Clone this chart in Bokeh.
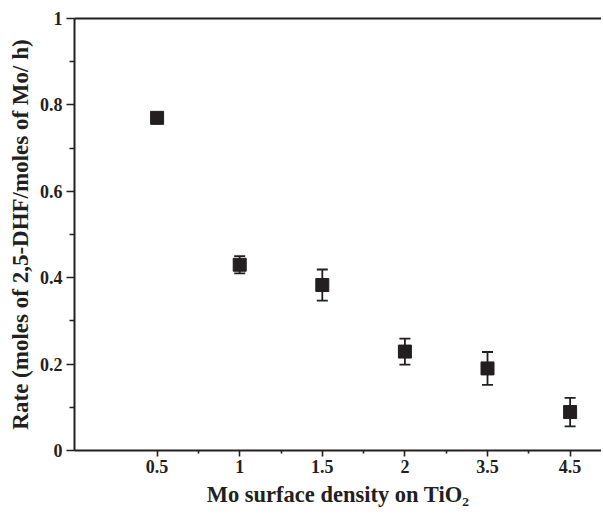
from bokeh.plotting import figure
from bokeh.models import ColumnDataSource, Whisker, FixedTicker, LinearAxis, Range1d, TeeHead
from bokeh.embed import file_html
from bokeh.resources import INLINE

# data
densities = ["0.5", "1", "1.5", "2", "3.5", "4.5"]
rates = [0.770, 0.430, 0.383, 0.229, 0.190, 0.089]
errors = [0.008, 0.020, 0.036, 0.030, 0.038, 0.033]
y_ticks = [0, 0.2, 0.4, 0.6, 0.8, 1.0]
y_tick_labels = ["0", "0.2", "0.4", "0.6", "0.8", "1"]

xpos = list(range(1, len(densities) + 1))
src = ColumnDataSource(dict(
    x=xpos, y=rates,
    lo=[r - e for r, e in zip(rates, errors)],
    hi=[r + e for r, e in zip(rates, errors)],
))

INK = "#231f20"
FONT = "Liberation Serif"

p = figure(frame_width=527, frame_height=432, output_backend="svg", toolbar_location=None,
           x_range=Range1d(0, 6.38), y_range=Range1d(0, 1),
           min_border_left=74, min_border_right=0, min_border_top=18, min_border_bottom=60)
p.outline_line_color = None
p.grid.visible = False
p.background_fill_color = "white"
p.border_fill_color = "white"

# x axis
xa = p.xaxis[0]
xa.ticker = FixedTicker(ticks=xpos, minor_ticks=[i + 0.5 for i in xpos[:-1]])
xa.major_label_overrides = {x: lab for x, lab in zip(xpos, densities)}
xa.axis_label = "Mo surface density on TiO\u2082"

# y axis
ya = p.yaxis[0]
ya.ticker = FixedTicker(ticks=y_ticks, minor_ticks=[0.1, 0.3, 0.5, 0.7, 0.9])
ya.major_label_overrides = {t: lab for t, lab in zip(y_ticks, y_tick_labels)}
ya.axis_label = "Rate (moles of 2,5-DHF/moles of Mo/ h)"

for ax in (xa, ya):
    ax.axis_line_color = INK
    ax.axis_line_width = 2
    ax.major_tick_line_color = INK
    ax.minor_tick_line_color = INK
    ax.major_tick_line_width = 1.6
    ax.minor_tick_line_width = 1.6
    ax.major_tick_in = 0
    ax.minor_tick_in = 0
    ax.major_label_text_font = FONT
    ax.major_label_text_font_style = "bold"
    ax.major_label_text_font_size = "18px"
    ax.major_label_text_color = INK
    ax.axis_label_text_font = FONT
    ax.axis_label_text_font_style = "bold"
    ax.axis_label_text_color = INK

xa.axis_label_text_font_size = "22.5px"
ya.axis_label_text_font_size = "23px"
xa.major_tick_out = 6
xa.minor_tick_out = 3
xa.major_label_standoff = 3
xa.axis_label_standoff = 6
ya.major_tick_out = 8
ya.minor_tick_out = 5
ya.major_label_standoff = 4
ya.axis_label_standoff = 4

# top frame line
top = LinearAxis(ticker=FixedTicker(ticks=[]), major_tick_out=0, minor_tick_out=0,
                 major_label_text_font_size="0px", axis_line_color=INK, axis_line_width=2)
p.add_layout(top, "above")

p.add_layout(Whisker(source=src, base="x", lower="lo", upper="hi",
                     line_color=INK, line_width=1.8,
                     upper_head=TeeHead(size=11, line_color=INK, line_width=1.8),
                     lower_head=TeeHead(size=11, line_color=INK, line_width=1.8)))
p.scatter("x", "y", source=src, marker="square", size=13, fill_color=INK, line_color=INK)

open("out.html", "w").write(file_html(p, INLINE))
